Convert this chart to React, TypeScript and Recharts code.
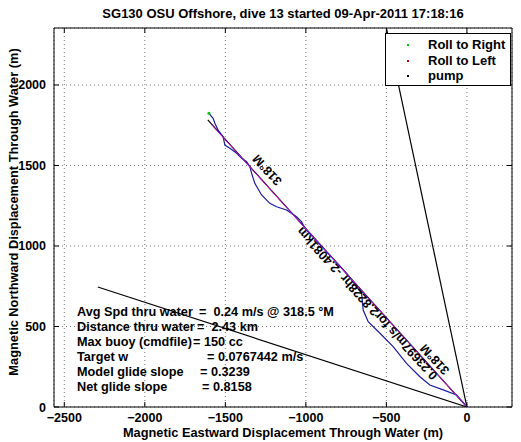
import { CartesianGrid, ComposedChart, Scatter, XAxis, YAxis } from 'recharts';

// axis geometry (axis equal)
const xTicks = [-2500, -2000, -1500, -1000, -500, 0];
const yTicks = [0, 500, 1000, 1500, 2000];
const xDomain = [-2564, 280];
const yDomain = [0, 2354];

// glider track through water (m)
const trackEast = [
  -1602, -1576, -1565, -1545, -1514, -1503, -1472, -1430, -1399, -1368, -1348, -1337, -1317,
  -1275, -1224, -1182, -1120, -1058, -1027, -1006, -747, -654, -644, -613, -540, -458, -375,
  -292, -230, -147, -64, 0,
];
const trackNorth = [
  1824, 1793, 1762, 1720, 1679, 1627, 1607, 1576, 1545, 1524, 1493, 1452, 1389, 1317, 1265,
  1244, 1224, 1182, 1151, 1110, 830, 706, 602, 530, 458, 375, 271, 188, 137, 106, 75, 0,
];

// straight vectors from the origin
const headingEnd = { x: -1609, y: 1783 };
const modelEnd = { x: -1584, y: 1752 };
const currentEnd = { x: -500, y: 2354 };
const lowerEnd = { x: -2292, y: 745 };

// rotated annotations along the heading line
const noteText = ['318°M', '0.23697m/s for2.8228hr -2.4081km', '318°M'];
const noteEast = [-1240, -619, -199];
const noteNorth = [1472, 644, 296];

const infoLabels = [
  'Avg Spd thru water',
  'Distance thru water',
  'Max buoy (cmdfile)',
  'Target w',
  'Model glide slope',
  'Net glide slope',
];
const infoValues = [
  '=  0.24 m/s @ 318.5 °M',
  '=  2.43 km',
  '= 150 cc',
  '= 0.0767442 m/s',
  '= 0.3239',
  '= 0.8158',
];
const infoValueLeft = [199, 197, 193, 207, 200, 202];

const legendItems = [
  { name: 'Roll to Right', color: '#00cc00' },
  { name: 'Roll to Left', color: '#cc0000' },
  { name: 'pump', color: '#000000' },
];

const FONT = '"Liberation Sans", Arial, Helvetica, sans-serif';

const track = trackEast.map((x, i) => ({ x, y: trackNorth[i] }));
const seg = (end: { x: number; y: number }) => [{ x: 0, y: 0 }, end];
const notes = noteText.map((text, i) => ({ x: noteEast[i], y: noteNorth[i], text }));
const startDot = [track[0]];

const fmt = (v: number) => (v < 0 ? `−${Math.abs(v)}` : `${v}`);
const noShape = () => <g />;

const BottomTick = ({ x, y, payload }: any) => (
  <g>
    <line x1={x} x2={x} y1={y} y2={y - 5} stroke="#000" />
    <text x={x} y={y + 15} textAnchor="middle" fontSize={12.5} fontWeight="bold" fontFamily={FONT} fill="#000">
      {fmt(payload.value)}
    </text>
  </g>
);
const TopTick = ({ x, y }: any) => <line x1={x} x2={x} y1={y} y2={y + 5} stroke="#000" />;
const LeftTick = ({ x, y, payload }: any) => (
  <g>
    <line x1={x} x2={x + 5} y1={y} y2={y} stroke="#000" />
    <text x={x - 8} y={y + 4.5} textAnchor="end" fontSize={12.5} fontWeight="bold" fontFamily={FONT} fill="#000">
      {fmt(payload.value)}
    </text>
  </g>
);
const RightTick = ({ x, y }: any) => <line x1={x} x2={x - 5} y1={y} y2={y} stroke="#000" />;

const NoteShape = (p: any) => (
  <text
    x={p.cx}
    y={p.cy}
    textAnchor="middle"
    dominantBaseline="central"
    fontSize={12.5}
    fontWeight="bold"
    fontFamily={FONT}
    fill="#000"
    transform={`rotate(227.6 ${p.cx} ${p.cy})`}
  >
    {p.payload.text}
  </text>
);

const DotShape = (p: any) => <circle cx={p.cx} cy={p.cy} r={1.5} fill="#00cc00" />;

const axisCommon = {
  type: 'number' as const,
  allowDataOverflow: true,
  tickSize: 0,
  tickMargin: 0,
  tickLine: false,
  axisLine: { stroke: '#000' },
};

export default function App() {
  return (
    <div
      style={{
        position: 'absolute',
        left: 0,
        top: 0,
        width: 521,
        height: 442,
        background: '#fff',
        fontFamily: FONT,
        fontWeight: 'bold',
        color: '#000',
      }}
    >
      <ComposedChart width={521} height={442} margin={{ top: 27, right: 8, bottom: 34, left: 53 }}>
        <CartesianGrid stroke="#777" strokeDasharray="1 3" />
        <XAxis xAxisId={0} dataKey="x" domain={xDomain} ticks={xTicks} height={1} tick={<BottomTick />} {...axisCommon} />
        <XAxis
          xAxisId="top"
          orientation="top"
          dataKey="x"
          domain={xDomain}
          ticks={xTicks}
          height={1}
          tick={<TopTick />}
          {...axisCommon}
        />
        <YAxis yAxisId={0} dataKey="y" domain={yDomain} ticks={yTicks} width={1} tick={<LeftTick />} {...axisCommon} />
        <YAxis
          yAxisId="right"
          orientation="right"
          dataKey="y"
          domain={yDomain}
          ticks={yTicks}
          width={1}
          tick={<RightTick />}
          {...axisCommon}
        />
        <Scatter data={seg(currentEnd)} line={{ stroke: '#000', strokeWidth: 1.2 }} shape={noShape} isAnimationActive={false} />
        <Scatter data={seg(lowerEnd)} line={{ stroke: '#000', strokeWidth: 1.2 }} shape={noShape} isAnimationActive={false} />
        <Scatter data={seg(headingEnd)} line={{ stroke: '#000', strokeWidth: 1.2 }} shape={noShape} isAnimationActive={false} />
        <Scatter data={track} line={{ stroke: '#1c1ca0', strokeWidth: 1.2 }} shape={noShape} isAnimationActive={false} />
        <Scatter data={seg(modelEnd)} line={{ stroke: '#d010d0', strokeWidth: 1 }} shape={noShape} isAnimationActive={false} />
        <Scatter data={startDot} shape={DotShape} isAnimationActive={false} />
        <Scatter data={notes} shape={NoteShape} isAnimationActive={false} />
      </ComposedChart>

      {/* title */}
      <div style={{ position: 'absolute', left: 0, width: 566, top: 6, textAlign: 'center', fontSize: 13, lineHeight: '15px', whiteSpace: 'nowrap' }}>
        SG130 OSU Offshore, dive 13 started 09-Apr-2011 17:18:16
      </div>

      {/* axis titles */}
      <div
        style={{
          position: 'absolute',
          left: 54,
          width: 458,
          top: 426,
          textAlign: 'center',
          fontSize: 12.8,
          lineHeight: '14px',
          whiteSpace: 'nowrap',
        }}
      >
        Magnetic Eastward Displacement Through Water (m)
      </div>
      <div
        style={{
          position: 'absolute',
          left: 14,
          top: 212,
          fontSize: 12.8,
          lineHeight: '14px',
          whiteSpace: 'nowrap',
          transform: 'translate(-50%, -50%) rotate(-90deg)',
        }}
      >
        Magnetic Northward Displacement Through Water (m)
      </div>

      {/* dive summary */}
      {infoLabels.map((label, i) => (
        <div key={label} style={{ position: 'absolute', top: 305 + i * 15, left: 0, fontSize: 12.7, whiteSpace: 'pre', lineHeight: '15px' }}>
          <span style={{ position: 'absolute', left: 77 }}>{label}</span>
          <span style={{ position: 'absolute', left: infoValueLeft[i] }}>{infoValues[i]}</span>
        </div>
      ))}

      {/* legend */}
      <div
        style={{
          position: 'absolute',
          left: 385,
          top: 33,
          width: 124,
          height: 51,
          background: '#fff',
          border: '1px solid #000',
          fontSize: 13,
        }}
      >
        {legendItems.map((item, i) => (
          <div key={item.name} style={{ position: 'absolute', top: 3 + i * 15.5, left: 0, height: 16, lineHeight: '16px', whiteSpace: 'nowrap' }}>
            <span
              style={{
                position: 'absolute',
                left: 21,
                top: 7,
                width: 2,
                height: 2,
                background: item.color,
              }}
            />
            <span style={{ position: 'absolute', left: 42 }}>{item.name}</span>
          </div>
        ))}
      </div>
    </div>
  );
}
